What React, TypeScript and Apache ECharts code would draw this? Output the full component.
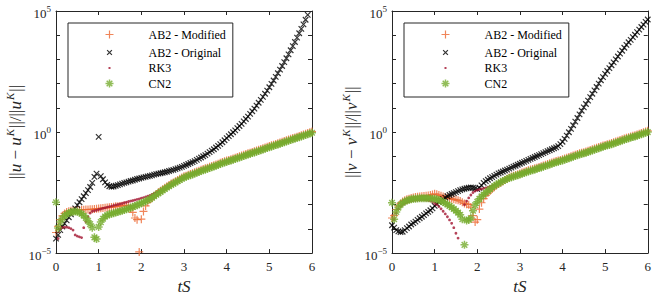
import React, { useEffect, useRef } from 'react';
import * as echarts from 'echarts';

// sample times tS
const T = [
  0, 0.05, 0.1, 0.15, 0.2, 0.25, 0.3, 0.35, 0.4, 0.45,
  0.5, 0.55, 0.6, 0.65, 0.7, 0.75, 0.8, 0.85, 0.9, 0.95,
  1, 1.05, 1.1, 1.15, 1.2, 1.25, 1.3, 1.35, 1.4, 1.45,
  1.5, 1.55, 1.6, 1.65, 1.7, 1.75, 1.8, 1.85, 1.9, 1.95,
  2, 2.05, 2.1, 2.15, 2.2, 2.25, 2.3, 2.35, 2.4, 2.45,
  2.5, 2.55, 2.6, 2.65, 2.7, 2.75, 2.8, 2.85, 2.9, 2.95,
  3, 3.05, 3.1, 3.15, 3.2, 3.25, 3.3, 3.35, 3.4, 3.45,
  3.5, 3.55, 3.6, 3.65, 3.7, 3.75, 3.8, 3.85, 3.9, 3.95,
  4, 4.05, 4.1, 4.15, 4.2, 4.25, 4.3, 4.35, 4.4, 4.45,
  4.5, 4.55, 4.6, 4.65, 4.7, 4.75, 4.8, 4.85, 4.9, 4.95,
  5, 5.05, 5.1, 5.15, 5.2, 5.25, 5.3, 5.35, 5.4, 5.45,
  5.5, 5.55, 5.6, 5.65, 5.7, 5.75, 5.8, 5.85, 5.9, 5.95,
  6,
];

// values are log10 of the relative error
// ---- left panel: ||u - u^K|| / ||u^K||
const U_AB2_MOD = [
  -4.15, -3.9, -3.62, -3.46, -3.36, -3.3, -3.27, -3.25, -3.24, -3.23,
  -3.22, -3.22, -3.21, -3.21, -3.2, -3.2, -3.19, -3.19, -3.18, -3.17,
  -3.16, -3.15, -3.14, -3.13, -3.12, -3.11, -3.1, -3.09, -3.07, -3.06,
  -3.05, -3.04, -3.03, -3.03, -3.06, -3.15, -3.32, -3.55, -3.62, -4.95,
  -3.6, -3.28, -3.05, -2.9, -2.8, -2.71, -2.63, -2.56, -2.49, -2.42,
  -2.36, -2.3, -2.24, -2.19, -2.13, -2.08, -2.03, -1.98, -1.93, -1.88,
  -1.83, -1.8, -1.76, -1.73, -1.7, -1.66, -1.63, -1.6, -1.56, -1.53,
  -1.5, -1.47, -1.43, -1.4, -1.37, -1.34, -1.31, -1.27, -1.24, -1.21,
  -1.18, -1.15, -1.12, -1.09, -1.06, -1.03, -1.0, -0.97, -0.94, -0.91,
  -0.88, -0.85, -0.82, -0.79, -0.76, -0.73, -0.7, -0.67, -0.64, -0.61,
  -0.58, -0.55, -0.52, -0.49, -0.46, -0.43, -0.4, -0.37, -0.34, -0.31,
  -0.28, -0.25, -0.22, -0.19, -0.16, -0.13, -0.1, -0.07, -0.04, -0.01,
  0.02,
];
const U_AB2_ORIG = [
  -4.4, -4.25, -4.05, -3.9, -3.78, -3.65, -3.52, -3.4, -3.27, -3.15,
  -3.02, -2.9, -2.77, -2.65, -2.52, -2.4, -2.27, -2.1, -1.85, -1.72,
  -0.2, -1.82, -1.95, -2.08, -2.18, -2.24, -2.26, -2.25, -2.22, -2.19,
  -2.16, -2.13, -2.1, -2.08, -2.05, -2.02, -2.0, -1.97, -1.94, -1.92,
  -1.89, -1.87, -1.85, -1.83, -1.81, -1.79, -1.76, -1.74, -1.72, -1.7,
  -1.68, -1.66, -1.64, -1.61, -1.58, -1.56, -1.53, -1.5, -1.47, -1.44,
  -1.4, -1.36, -1.32, -1.28, -1.24, -1.2, -1.15, -1.1, -1.05, -1.0,
  -0.95, -0.89, -0.83, -0.77, -0.71, -0.64, -0.57, -0.5, -0.42, -0.34,
  -0.25, -0.17, -0.09, -0.01, 0.07, 0.16, 0.25, 0.34, 0.44, 0.54,
  0.64, 0.75, 0.86, 0.97, 1.09, 1.21, 1.33, 1.45, 1.58, 1.71,
  1.85, 1.99, 2.13, 2.28, 2.43, 2.58, 2.73, 2.89, 3.05, 3.21,
  3.38, 3.55, 3.72, 3.9, 4.08, 4.26, 4.45, 4.64, 4.84, 5.04,
  5.25,
];
const U_RK3 = [
  null, -4.4, -4.0, -3.95, -3.93, -3.93, -3.95, -3.99, -4.05, -4.25,
  -4.3, -4.33, -4.36, -3.95, -3.7, -3.5, -3.35, -3.27, -3.25, -3.23,
  -3.2, -3.18, -3.15, -3.13, -3.1, -3.08, -3.06, -3.03, -3.01, -2.99,
  -2.97, -2.95, -2.92, -2.9, -2.87, -2.85, -2.83, -2.81, -2.78, -2.76,
  -2.73, -2.71, -2.68, -2.65, -2.62, -2.58, -2.54, -2.5, -2.46, -2.42,
  -2.38, -2.34, -2.29, -2.24, -2.19, -2.14, -2.09, -2.04, -1.99, -1.94,
  -1.89, -1.83, -1.79, -1.76, -1.73, -1.69, -1.66, -1.63, -1.59, -1.56,
  -1.53, -1.5, -1.46, -1.43, -1.4, -1.37, -1.34, -1.3, -1.27, -1.24,
  -1.21, -1.18, -1.15, -1.12, -1.09, -1.06, -1.03, -1.0, -0.97, -0.94,
  -0.91, -0.88, -0.85, -0.82, -0.79, -0.76, -0.73, -0.7, -0.67, -0.64,
  -0.61, -0.58, -0.55, -0.52, -0.49, -0.46, -0.43, -0.4, -0.37, -0.34,
  -0.31, -0.28, -0.25, -0.22, -0.19, -0.16, -0.13, -0.1, -0.07, -0.04,
  -0.01,
];
const U_CN2 = [
  -2.9, -3.96, -3.72, -3.56, -3.46, -3.39, -3.34, -3.31, -3.29, -3.28,
  -3.29, -3.32, -3.37, -3.45, -3.55, -3.67, -3.8, -3.95, -4.35, -4.42,
  -3.92, -3.72, -3.58, -3.49, -3.44, -3.4, -3.37, -3.35, -3.32, -3.3,
  -3.27, -3.25, -3.22, -3.19, -3.16, -3.12, -3.09, -3.05, -3.02, -2.98,
  -2.94, -2.9, -2.86, -2.81, -2.77, -2.71, -2.65, -2.59, -2.53, -2.47,
  -2.41, -2.35, -2.29, -2.24, -2.18, -2.13, -2.08, -2.03, -1.98, -1.93,
  -1.88, -1.85, -1.81, -1.78, -1.75, -1.71, -1.68, -1.65, -1.61, -1.58,
  -1.55, -1.52, -1.48, -1.45, -1.42, -1.39, -1.36, -1.32, -1.29, -1.26,
  -1.23, -1.2, -1.17, -1.14, -1.11, -1.08, -1.05, -1.02, -0.99, -0.96,
  -0.93, -0.9, -0.87, -0.84, -0.81, -0.78, -0.75, -0.72, -0.69, -0.66,
  -0.63, -0.6, -0.57, -0.54, -0.51, -0.48, -0.45, -0.42, -0.39, -0.36,
  -0.33, -0.3, -0.27, -0.24, -0.21, -0.18, -0.15, -0.12, -0.09, -0.06,
  -0.03,
];

// ---- right panel: ||v - v^K|| / ||v^K||
const V_AB2_MOD = [
  -3.55, -3.45, -3.2, -3.05, -2.95, -2.87, -2.82, -2.78, -2.75, -2.72,
  -2.7, -2.68, -2.67, -2.66, -2.65, -2.64, -2.63, -2.62, -2.6, -2.58,
  -2.55, -2.57, -2.6, -2.63, -2.66, -2.69, -2.72, -2.74, -2.76, -2.78,
  -2.8, -2.82, -2.85, -2.9, -2.95, -2.98, -3.0, -3.1, -3.45, -3.72,
  -3.62, -3.18, -2.92, -2.75, -2.62, -2.52, -2.43, -2.35, -2.28, -2.21,
  -2.15, -2.09, -2.04, -1.98, -1.93, -1.88, -1.84, -1.8, -1.77, -1.74,
  -1.71, -1.67, -1.64, -1.61, -1.58, -1.55, -1.53, -1.5, -1.47, -1.44,
  -1.41, -1.38, -1.35, -1.32, -1.29, -1.26, -1.23, -1.2, -1.18, -1.15,
  -1.12, -1.09, -1.06, -1.03, -1.0, -0.97, -0.94, -0.91, -0.88, -0.85,
  -0.83, -0.8, -0.77, -0.74, -0.71, -0.68, -0.65, -0.62, -0.59, -0.56,
  -0.53, -0.5, -0.48, -0.45, -0.42, -0.39, -0.36, -0.33, -0.3, -0.27,
  -0.24, -0.21, -0.18, -0.15, -0.13, -0.1, -0.07, -0.04, -0.01, 0.02,
  0.05,
];
const V_AB2_ORIG = [
  -3.85, -3.95, -4.05, -4.1, -4.13, -4.12, -4.05, -3.97, -3.9, -3.82,
  -3.76, -3.7, -3.63, -3.56, -3.5, -3.43, -3.36, -3.3, -3.23, -3.15,
  -3.05, -2.96, -2.89, -2.83, -2.77, -2.71, -2.65, -2.6, -2.56, -2.52,
  -2.48, -2.44, -2.4, -2.37, -2.34, -2.32, -2.3, -2.29, -2.3, -2.33,
  -2.36, -2.3, -2.2, -2.1, -2.03, -1.97, -1.91, -1.86, -1.81, -1.76,
  -1.71, -1.67, -1.63, -1.59, -1.55, -1.51, -1.47, -1.43, -1.39, -1.35,
  -1.31, -1.27, -1.23, -1.19, -1.15, -1.11, -1.07, -1.03, -0.99, -0.95,
  -0.91, -0.87, -0.83, -0.79, -0.75, -0.71, -0.67, -0.63, -0.58, -0.5,
  -0.4, -0.28, -0.15, -0.01, 0.13, 0.28, 0.43, 0.58, 0.73, 0.88,
  1.02, 1.16, 1.3, 1.44, 1.58, 1.72, 1.86, 2.0, 2.14, 2.27,
  2.4, 2.52, 2.64, 2.76, 2.88, 3.0, 3.12, 3.24, 3.36, 3.48,
  3.6, 3.71, 3.81, 3.92, 4.02, 4.13, 4.23, 4.34, 4.44, 4.55,
  4.65,
];
const V_RK3 = [
  null, -3.62, -3.36, -3.18, -3.07, -2.99, -2.94, -2.9, -2.87, -2.85,
  -2.83, -2.82, -2.81, -2.8, -2.8, -2.8, -2.81, -2.82, -2.84, -2.88,
  -2.94, -3.0, -3.08, -3.17, -3.27, -3.38, -3.5, -3.63, -3.77, -3.95,
  -4.18, -4.38, null, null, -3.0, -2.85, -2.72, -2.6, -2.5, -2.44,
  -2.4, -2.37, -2.35, -2.33, -2.31, -2.28, -2.25, -2.22, -2.19, -2.15,
  -2.11, -2.07, -2.03, -1.99, -1.95, -1.91, -1.87, -1.84, -1.81, -1.78,
  -1.74, -1.71, -1.68, -1.65, -1.62, -1.59, -1.57, -1.54, -1.51, -1.48,
  -1.45, -1.42, -1.39, -1.36, -1.33, -1.3, -1.27, -1.24, -1.22, -1.19,
  -1.16, -1.13, -1.1, -1.07, -1.04, -1.01, -0.98, -0.95, -0.92, -0.89,
  -0.87, -0.84, -0.81, -0.78, -0.75, -0.72, -0.69, -0.66, -0.63, -0.6,
  -0.57, -0.54, -0.52, -0.49, -0.46, -0.43, -0.4, -0.37, -0.34, -0.31,
  -0.28, -0.25, -0.22, -0.19, -0.17, -0.14, -0.11, -0.08, -0.05, -0.02,
  0.01,
];
const V_CN2 = [
  -2.92, -3.6, -3.3, -3.12, -3.0, -2.92, -2.87, -2.83, -2.8, -2.78,
  -2.76, -2.75, -2.74, -2.73, -2.73, -2.73, -2.73, -2.73, -2.74, -2.75,
  -2.76, -2.78, -2.81, -2.85, -2.89, -2.94, -2.99, -3.05, -3.11, -3.18,
  -3.25, -3.33, -3.42, -3.6, -4.66, -3.65, -3.63, -3.55, -3.25, -3.02,
  -2.88, -2.76, -2.66, -2.58, -2.5, -2.43, -2.36, -2.29, -2.23, -2.17,
  -2.12, -2.07, -2.02, -1.98, -1.94, -1.9, -1.87, -1.84, -1.81, -1.78,
  -1.75, -1.72, -1.69, -1.66, -1.63, -1.6, -1.58, -1.55, -1.52, -1.49,
  -1.46, -1.43, -1.4, -1.37, -1.34, -1.31, -1.28, -1.25, -1.23, -1.2,
  -1.17, -1.14, -1.11, -1.08, -1.05, -1.02, -0.99, -0.96, -0.93, -0.9,
  -0.88, -0.85, -0.82, -0.79, -0.76, -0.73, -0.7, -0.67, -0.64, -0.61,
  -0.58, -0.55, -0.53, -0.5, -0.47, -0.44, -0.41, -0.38, -0.35, -0.32,
  -0.29, -0.26, -0.23, -0.2, -0.18, -0.15, -0.12, -0.09, -0.06, -0.03,
  0.0,
];

const SERIES_NAMES = ['AB2 - Modified', 'AB2 - Original', 'RK3', 'CN2'];
const X_TICKS = [0, 1, 2, 3, 4, 5, 6];
const Y_LABELLED_EXPONENTS = [-5, 0, 5];

const FONT = 'Liberation Serif, DejaVu Serif, serif';
const AXIS_COLOR = '#262626';
const C_ORANGE = '#EC6630';
const C_BLACK = '#000000';
const C_RED = '#A2142F';
const C_GREEN = '#77AC30';

const PLUS = 'path://M0,5L10,5M5,0L5,10';
const CROSS = 'path://M0,0L10,10M10,0L0,10';
const STAR = 'path://M0,5L10,5M5,0L5,10M1.5,1.5L8.5,8.5M8.5,1.5L1.5,8.5';

const PLUS_L = 'path://M0,0M12,12M2,6L10,6M6,2L6,10';
const CROSS_L = 'path://M0,0M12,12M3.6,3.6L8.4,8.4M8.4,3.6L3.6,8.4';
const DOT_L = 'path://M0,0M12,12M5,5L7,5L7,7L5,7Z';
const STAR_L = 'path://M0,0M12,12M2,6L10,6M6,2L6,10M3.2,3.2L8.8,8.8M8.8,3.2L3.2,8.8';

function buildData(e: (number | null)[]) {
  const out: number[][] = [];
  for (let i = 0; i < T.length; i++) {
    const v = e[i];
    if (v !== null && v !== undefined) out.push([T[i], v]);
  }
  return out;
}

function xAxes(g: number) {
  const line = { show: true, onZero: false, lineStyle: { color: AXIS_COLOR, width: 1 } };
  const tick = { show: true, inside: true, length: 4, lineStyle: { color: AXIS_COLOR, width: 1 } };
  return [
    {
      gridIndex: g, type: 'value', min: X_TICKS[0], max: X_TICKS[X_TICKS.length - 1], interval: 1,
      position: 'bottom', axisLine: line, axisTick: tick, splitLine: { show: false },
      axisLabel: { color: AXIS_COLOR, fontSize: 13, fontFamily: FONT, margin: 7 },
      name: 'tS', nameLocation: 'middle', nameGap: 24,
      nameTextStyle: { fontFamily: FONT, fontStyle: 'italic', fontSize: 17, color: AXIS_COLOR },
    },
    {
      gridIndex: g, type: 'value', min: X_TICKS[0], max: X_TICKS[X_TICKS.length - 1], interval: 1,
      position: 'top', axisLine: line, axisTick: tick, splitLine: { show: false },
      axisLabel: { show: false },
    },
  ];
}

function yAxes(g: number, letter: string) {
  const line = { show: true, onZero: false, lineStyle: { color: AXIS_COLOR, width: 1 } };
  const tick = { show: true, inside: true, length: 4, lineStyle: { color: AXIS_COLOR, width: 1 } };
  const nameRich = {
    b: { fontFamily: FONT, fontSize: 17, lineHeight: 17, padding: [5, 0, 0, 0], color: AXIS_COLOR },
    i: { fontFamily: FONT, fontSize: 17, fontStyle: 'italic', lineHeight: 17, padding: [5, 0, 0, 0], color: AXIS_COLOR },
    s: { fontFamily: FONT, fontSize: 11, fontStyle: 'italic', lineHeight: 10, verticalAlign: 'top', padding: [0, 1, 0, 1], color: AXIS_COLOR },
  };
  return [
    {
      gridIndex: g, type: 'value', min: -5, max: 5, interval: 1, position: 'left',
      axisLine: line, axisTick: tick, splitLine: { show: false },
      axisLabel: {
        margin: 5, color: AXIS_COLOR, fontFamily: FONT,
        formatter: (v: number) => {
          if (Y_LABELLED_EXPONENTS.indexOf(v) < 0) return '';
          return '{b|10}{s|' + (v < 0 ? '\u2212' + Math.abs(v) : String(v)) + '}';
        },
        rich: {
          b: { fontFamily: FONT, fontSize: 13, lineHeight: 13, padding: [4, 0, 0, 0], color: AXIS_COLOR },
          s: { fontFamily: FONT, fontSize: 9, lineHeight: 9, verticalAlign: 'top', color: AXIS_COLOR },
        },
      },
      name: '{b|||}{i|' + letter + '}{b| \u2212 }{i|' + letter + '}{s|K}{b|||/||}{i|' + letter + '}{s|K}{b|||}',
      nameLocation: 'middle', nameRotate: 90, nameGap: 35,
      nameTextStyle: { rich: nameRich },
    },
    {
      gridIndex: g, type: 'value', min: -5, max: 5, interval: 1, position: 'right',
      axisLine: line, axisTick: tick, splitLine: { show: false }, axisLabel: { show: false },
    },
  ];
}

function seriesFor(g: number, arrays: (number | null)[][]) {
  const xi = g * 2;
  const yi = g * 2;
  const base = { type: 'scatter', xAxisIndex: xi, yAxisIndex: yi, clip: true, silent: true };
  return [
    { ...base, name: SERIES_NAMES[0], symbol: PLUS, symbolSize: 8, data: buildData(arrays[0]),
      itemStyle: { color: 'none', borderColor: C_ORANGE, borderWidth: 1.2 } },
    { ...base, name: SERIES_NAMES[1], symbol: CROSS, symbolSize: 5.5, data: buildData(arrays[1]),
      itemStyle: { color: 'none', borderColor: C_BLACK, borderWidth: 1.2 } },
    { ...base, name: SERIES_NAMES[2], symbol: 'circle', symbolSize: 2.8, data: buildData(arrays[2]),
      itemStyle: { color: C_RED, borderWidth: 0 } },
    { ...base, name: SERIES_NAMES[3], symbol: STAR, symbolSize: 8, data: buildData(arrays[3]),
      itemStyle: { color: 'none', borderColor: C_GREEN, borderWidth: 1.5 } },
  ];
}

function legendAt(left: number) {
  return {
    left, top: 23, orient: 'vertical', selectedMode: false,
    padding: [3, 7, 5, 33], itemWidth: 14, itemHeight: 12, itemGap: 1,
    borderColor: AXIS_COLOR, borderWidth: 1, backgroundColor: '#ffffff',
    textStyle: { fontFamily: FONT, fontSize: 12, color: '#000', lineHeight: 12, width: 74, padding: [0, 0, 0, 27] },
    data: [
      { name: SERIES_NAMES[0], icon: PLUS_L, itemStyle: { color: 'none', borderColor: C_ORANGE, borderWidth: 1.2 } },
      { name: SERIES_NAMES[1], icon: CROSS_L, itemStyle: { color: 'none', borderColor: C_BLACK, borderWidth: 1.2 } },
      { name: SERIES_NAMES[2], icon: DOT_L, itemStyle: { color: C_RED, borderWidth: 0 } },
      { name: SERIES_NAMES[3], icon: STAR_L, itemStyle: { color: 'none', borderColor: C_GREEN, borderWidth: 1.5 } },
    ],
  };
}

export default function App() {
  const ref = useRef<HTMLDivElement>(null);
  useEffect(() => {
    if (!ref.current) return;
    const chart = echarts.init(ref.current, undefined, { renderer: 'svg' });
    const option = {
      animation: false,
      backgroundColor: '#ffffff',
      textStyle: { fontFamily: FONT },
      grid: [
        { left: 56, top: 11, width: 256, height: 252 },
        { left: 392, top: 11, width: 256, height: 252 },
      ],
      xAxis: [...xAxes(0), ...xAxes(1)],
      yAxis: [...yAxes(0, 'u'), ...yAxes(1, 'v')],
      legend: [legendAt(68), legendAt(404)],
      series: [
        ...seriesFor(0, [U_AB2_MOD, U_AB2_ORIG, U_RK3, U_CN2]),
        ...seriesFor(1, [V_AB2_MOD, V_AB2_ORIG, V_RK3, V_CN2]),
      ],
    };
    chart.setOption(option as any);
    return () => chart.dispose();
  }, []);
  return (
    <div
      ref={ref}
      style={{ position: 'fixed', left: 0, top: 0, width: 654, height: 300, background: '#fff' }}
    />
  );
}
